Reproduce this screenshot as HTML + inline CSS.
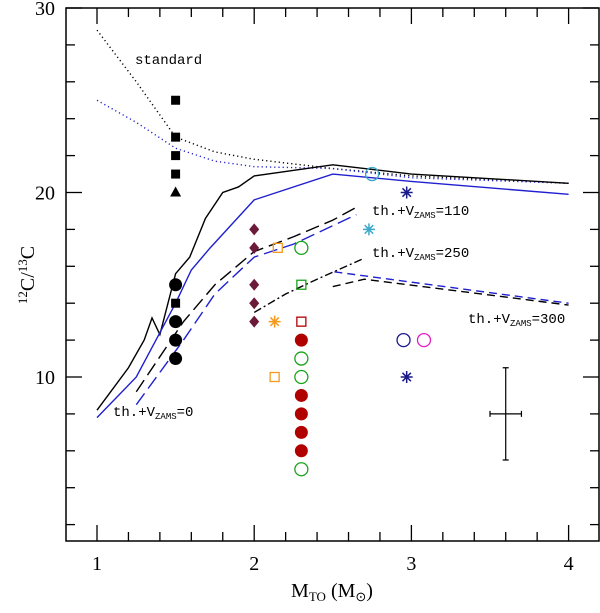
<!DOCTYPE html>
<html><head><meta charset="utf-8"><style>
body{margin:0;background:#fff}
svg text{font-family:"Liberation Serif",serif}
.lab{font-family:"Liberation Mono",monospace;font-size:14px}
</style></head><body>
<svg id="chart" width="600" height="608" xmlns="http://www.w3.org/2000/svg">
<g id="curves"></g><g id="marks"></g><g id="axes"></g>
<text class="lab" x="135" y="64">standard</text>
<text class="lab" x="372" y="215">th.+V<tspan font-size="9" dy="3">ZAMS</tspan><tspan dy="-3">=110</tspan></text>
<text class="lab" x="372" y="257">th.+V<tspan font-size="9" dy="3">ZAMS</tspan><tspan dy="-3">=250</tspan></text>
<text class="lab" x="468" y="323">th.+V<tspan font-size="9" dy="3">ZAMS</tspan><tspan dy="-3">=300</tspan></text>
<text class="lab" x="113" y="416">th.+V<tspan font-size="9" dy="3">ZAMS</tspan><tspan dy="-3">=0</tspan></text>
<text x="332" y="597" font-size="20" text-anchor="middle">M<tspan font-size="13" dy="4">TO</tspan><tspan dy="-4">  (M</tspan><tspan font-size="13" dy="4">⊙</tspan><tspan dy="-4">)</tspan></text>
<text transform="translate(34,275) rotate(-90)" font-size="20" text-anchor="middle"><tspan font-size="13" dy="-7">12</tspan><tspan dy="7">C/</tspan><tspan font-size="13" dy="-7">13</tspan><tspan dy="7">C</tspan></text>
</svg>
<script>
const xTicks=[1,2,3,4];
const yTicks=[10,20,30];
const curveStandard=[[1,28.8],[1.25,26],[1.5,23],[1.75,22.2],[2,21.8],[2.5,21.3],[3,20.9],[4,20.5]];
const curveStandardBlue=[[1,25],[1.25,23.8],[1.5,22.4],[1.75,21.7],[2,21.4],[2.5,21.3],[3,20.8],[4,20.5]];
const curveV0=[[1,8.2],[1.2,10.5],[1.3,12],[1.35,13.2],[1.4,12.3],[1.5,15.6],[1.59,16.5],[1.69,18.6],[1.8,20],[1.9,20.3],[2,20.9],[2.5,21.5],[3,21],[4,20.5]];
const curveV0Blue=[[1,7.8],[1.25,10],[1.5,14],[1.6,15.8],[1.72,17],[2,19.6],[2.5,21],[3,20.6],[4,19.9]];
const curveV110=[[1.25,9.2],[1.55,13],[1.75,15],[2,16.8],[2.25,17.6],[2.5,18.5],[2.65,19.2]];
const curveV110Blue=[[1.25,8.5],[1.55,12],[1.75,14.5],[2,16.5],[2.25,17.2],[2.5,18.2],[2.65,18.8]];
const curveV250=[[2,13.5],[2.2,14.5],[2.4,15.3],[2.69,16.4]];
const curveV300=[[2.5,14.9],[2.7,15.3],[4,13.9]];
const curveV300Blue=[[2.51,15.7],[4,14.0]];
const points=[
 [1.5,25,'sq','#000'],[1.5,23,'sq','#000'],[1.5,22,'sq','#000'],[1.5,21,'sq','#000'],[1.5,14,'sq','#000'],[1.5,20,'tri','#000'],
 [1.5,15,'fc','#000'],[1.5,13,'fc','#000'],[1.5,12,'fc','#000'],[1.5,11,'fc','#000'],
 [2,18,'dia','#6b1a3a'],[2,17,'dia','#6b1a3a'],[2,15,'dia','#6b1a3a'],[2,14,'dia','#6b1a3a'],[2,13,'dia','#6b1a3a'],
 [2.15,17,'os','#f39a1e'],[2.13,10,'os','#f39a1e'],[2.13,13,'ast','#f39a1e'],
 [2.3,17,'oc','#1aa31a'],[2.3,11,'oc','#1aa31a'],[2.3,10,'oc','#1aa31a'],[2.3,5,'oc','#1aa31a'],[2.3,15,'os','#1aa31a'],
 [2.3,13,'os','#b00000'],[2.3,12,'fc','#b00000'],[2.3,9,'fc','#b00000'],[2.3,8,'fc','#b00000'],[2.3,7,'fc','#b00000'],[2.3,6,'fc','#b00000'],
 [2.75,21,'oc','#3aa8c8'],[2.73,18,'ast','#3aa8c8'],
 [2.97,20,'ast','#1a1a8a'],[2.97,10,'ast','#1a1a8a'],[2.95,12,'oc','#1a1a8a'],[3.08,12,'oc','#e020c0']];
const errBar=[3.6,8,0.1,2.5];
const L0=66,R0=599,T0=8,B0=541;
const X=v=>97+(v-1)*157.2, Y=v=>8+(30-v)*18.45;
const NS='http://www.w3.org/2000/svg';
function mk(t,a,p){const e=document.createElementNS(NS,t);for(const k in a)e.setAttribute(k,a[k]);p.appendChild(e);return e;}
const cg=document.getElementById('curves'),mg=document.getElementById('marks'),ag=document.getElementById('axes');
function curve(d,col,dash,name){const e=mk('polyline',{points:d.map(p=>X(p[0])+','+Y(p[1])).join(' '),fill:'none',stroke:col,'stroke-width':1.4,'stroke-dasharray':dash},cg);

}
curve(curveStandard,'#000','1.2 3','curve-standard');
curve(curveStandardBlue,'#2020d0','1.2 3','curve-standard-blue');
curve(curveV0,'#000','none','curve-v0');
curve(curveV0Blue,'#2020d0','none','curve-v0-blue');
curve(curveV110,'#000','14 6','curve-v110');
curve(curveV110Blue,'#2020d0','14 6','curve-v110-blue');
curve(curveV250,'#000','8 3 2 3','curve-v250');
curve(curveV300,'#000','8 5','curve-v300');
curve(curveV300Blue,'#2020d0','8 5','curve-v300-blue');
points.forEach(p=>{const x=X(p[0]),y=Y(p[1]),c=p[3];let e;
 if(p[2]=='sq')e=mk('rect',{x:x-4.5,y:y-4.5,width:9,height:9,fill:c},mg);
 else if(p[2]=='os')e=mk('rect',{x:x-4.5,y:y-4.5,width:9,height:9,fill:'none',stroke:c,'stroke-width':1.3},mg);
 else if(p[2]=='tri')e=mk('polygon',{points:`${x},${y-6} ${x-5.5},${y+4} ${x+5.5},${y+4}`,fill:c},mg);
 else if(p[2]=='fc')e=mk('circle',{cx:x,cy:y,r:6.5,fill:c},mg);
 else if(p[2]=='oc')e=mk('circle',{cx:x,cy:y,r:6.5,fill:'none',stroke:c,'stroke-width':1.3},mg);
 else if(p[2]=='dia')e=mk('polygon',{points:`${x},${y-6} ${x+5},${y} ${x},${y+6} ${x-5},${y}`,fill:c},mg);
 else {e=mk('path',{d:`M${x-6},${y}H${x+6}M${x},${y-6}V${y+6}M${x-4.2},${y-4.2}L${x+4.2},${y+4.2}M${x-4.2},${y+4.2}L${x+4.2},${y-4.2}`,stroke:c,'stroke-width':1.5},mg);}
 
 });
{const [ex,ey,dx,dy]=errBar;const x=X(ex),y=Y(ey),x1=X(ex-dx),x2=X(ex+dx),y1=Y(ey+dy),y2=Y(ey-dy);
const e=mk('path',{d:`M${x1},${y}H${x2}M${x},${y1}V${y2}M${x1},${y-3}v6M${x2},${y-3}v6M${x-3},${y1}h6M${x-3},${y2}h6`,stroke:'#000','stroke-width':1.2,fill:'none'},mg);

}
const fr=mk('rect',{x:L0,y:T0,width:R0-L0,height:B0-T0,fill:'none',stroke:'#000','stroke-width':1.5},ag);


for(let i=-1;i<=16;i++){const vv=1+i*0.2;const x=X(vv);if(x<=L0||x>=R0)continue;const maj=i%5==0;const L=maj?16:9;
 mk('line',{x1:x,x2:x,y1:B0,y2:B0-L,stroke:'#000','stroke-width':1.3},ag);mk('line',{x1:x,x2:x,y1:T0,y2:T0+L,stroke:'#000','stroke-width':1.3},ag);}
for(let v=2;v<=30;v+=2){const y=Y(v);if(y>=B0)continue;const maj=v%10==0;const L=maj?16:9;
 mk('line',{y1:y,y2:y,x1:L0,x2:L0+L,stroke:'#000','stroke-width':1.3},ag);mk('line',{y1:y,y2:y,x1:R0,x2:R0-L,stroke:'#000','stroke-width':1.3},ag);}
xTicks.forEach(v=>{const t=mk('text',{x:X(v),y:570,'font-size':20,'text-anchor':'middle'},ag);t.textContent=v;
 
 });
yTicks.forEach(v=>{const t=mk('text',{x:55,y:Y(v)+7,'font-size':20,'text-anchor':'end'},ag);t.textContent=v;
 
 });
</script>
</body></html>
